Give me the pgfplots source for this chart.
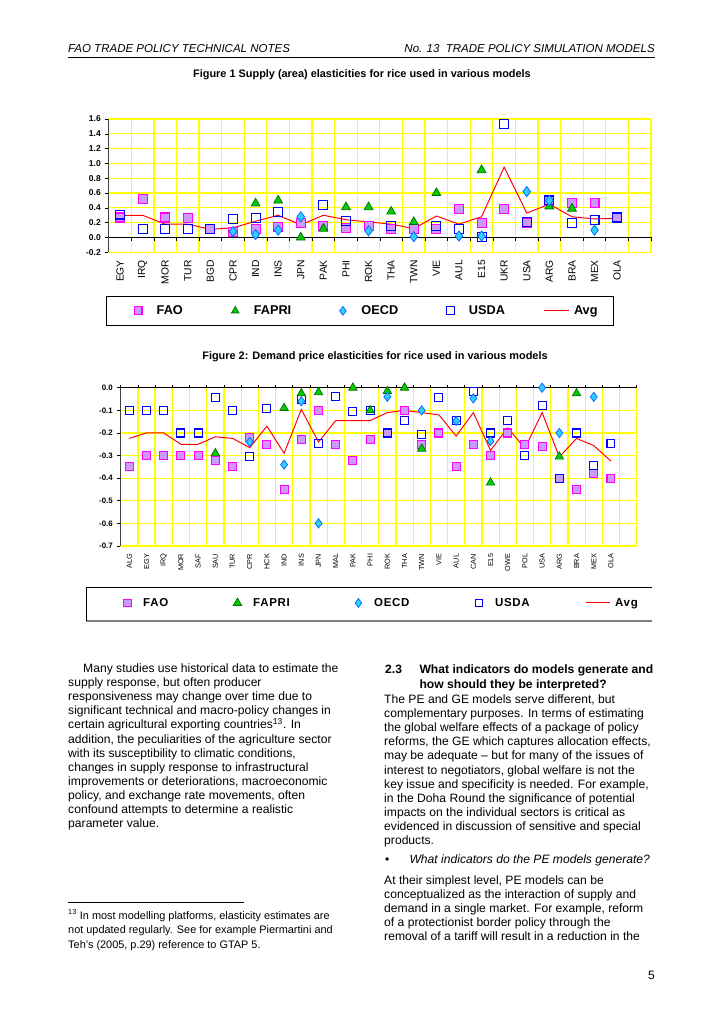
\documentclass[border=0pt]{standalone}
\usepackage{fontspec}
\setmainfont{Liberation Sans}
\usepackage{pgfplots}
\pgfplotsset{compat=1.18}

\definecolor{faofill}{RGB}{204,153,255}
\definecolor{faoedge}{RGB}{255,0,255}
\definecolor{fapfill}{RGB}{0,204,0}
\definecolor{fapedge}{RGB}{0,110,0}
\definecolor{oecdfill}{RGB}{51,204,255}
\definecolor{oecdedge}{RGB}{0,102,255}
\definecolor{usdaedge}{RGB}{0,0,255}
\definecolor{gridyel}{RGB}{255,255,0}
\definecolor{avgred}{RGB}{255,0,0}

\pgfplotsset{
  fao/.style={only marks, mark=square*, mark size=#1, mark options={fill=faofill, draw=faoedge, line width=0.9pt}},
  fapri/.style={only marks, mark=triangle*, mark size=#1, mark options={fill=fapfill, draw=fapedge, line width=0.6pt}},
  oecd/.style={only marks, mark=diamond*, mark size=#1, mark options={fill=oecdfill, draw=oecdedge, line width=0.6pt}},
  usda/.style={only marks, mark=square, mark size=#1, mark options={draw=usdaedge, line width=0.9pt}},
  avg/.style={avgred, line width=0.8pt, mark=none},
  legmark/.style={legend image code/.code={\path (-7pt,-3pt) (#1,3pt); \draw[##1] plot coordinates {(0pt,0pt)};}},
  legline/.style={legend image code/.code={\path (0pt,-3pt) (24pt,3pt); \draw[##1] (0pt,0pt) -- (#1,0pt);}},
  eltchart/.style={
    scale only axis, clip=false,
    /pgf/number format/assume math mode=true,
    axis line style={gridyel, line width=1pt},
    grid style={gridyel, line width=1pt},
    minor grid style={gridyel, line width=1pt},
    xminorgrids=true, ymajorgrids=true,
    x tick style={draw=none}, minor tick length=0pt,
    y tick style={black, line width=0.5pt}, ytick pos=left,
    tick align=outside, major tick length=3pt,
    yticklabel style={/pgf/number format/fixed, /pgf/number format/fixed zerofill, /pgf/number format/precision=1},
    xticklabel style={rotate=90, anchor=east},
    legend columns=5, legend cell align=left,
  },
}

\newcommand\tl[3]{\node[anchor=base west, inner sep=0pt, font=\fontsize{10}{12}\selectfont] at (#1,#2) {#3};}

\begin{document}
\begin{tikzpicture}[x=0.8253pt, y=-0.8253pt]
\fill[white] (0,0) rectangle (724,1024);
\useasboundingbox (0,0) rectangle (724,1024);

% running head
\node[anchor=base west, inner sep=0pt, font=\itshape\fontsize{9.5}{10}\selectfont] at (68,53) {FAO TRADE POLICY TECHNICAL NOTES};
\node[anchor=base east, inner sep=0pt, font=\itshape\fontsize{9.5}{10}\selectfont] at (655,53) {No. 13\ \ TRADE POLICY SIMULATION MODELS};
\draw[line width=0.6pt] (68,57.5) -- (655,57.5);

\node[anchor=base, inner sep=0pt, font=\bfseries\fontsize{9}{10}\selectfont] at (362,78) {Figure 1 Supply (area) elasticities for rice used in various models};
\node[anchor=base, inner sep=0pt, font=\bfseries\fontsize{9}{10}\selectfont] at (375,359) {Figure 2: Demand price elasticities for rice used in various models};

% ---------- Figure 1 ----------
\begin{axis}[eltchart,
  at={(89.71pt,-208.22pt)}, anchor=south west, width=447.6pt, height=110pt,
  xmin=-0.5, xmax=23.5, ymin=-0.2, ymax=1.6,
  xtick={0,...,22},
  xticklabels={EGY,IRQ,MOR,TUR,BGD,CPR,IND,INS,JPN,PAK,PHI,ROK,THA,TWN,VIE,AUL,E15,UKR,USA,ARG,BRA,MEX,OLA},
  minor xtick={-0.5,0.5,...,23.5},
  ytick={-0.2,0,0.2,0.4,0.6,0.8,1.0,1.2,1.4,1.6},
  xticklabel style={font=\fontsize{8.5}{9}\selectfont},
  yticklabel style={font=\bfseries\fontsize{7}{8}\selectfont},
  legend style={draw=none, fill=none, at={(0.0378,-0.439)}, anchor=west, inner sep=0pt,
    nodes={inner sep=0pt, font=\bfseries\fontsize{10.5}{11}\selectfont}},
]
\draw[black, line width=0.6pt] (axis cs:-0.5,0) -- (axis cs:23.5,0);
\pgfplotsinvokeforeach{-0.5,0.5,...,23.5}{\draw[black, line width=0.6pt] (axis cs:#1,0) -- ++(0pt,-2.5pt);}
\draw[black!75, line width=0.8pt] (rel axis cs:0,0) -- (rel axis cs:0,1);

\addlegendimage{fao=3.2pt, legmark=15.1pt}\addlegendentry{\makebox[57.6pt][l]{FAO}}
\addlegendimage{fapri=3.6pt, legmark=15.1pt}\addlegendentry{\makebox[66.4pt][l]{FAPRI}}
\addlegendimage{oecd=3.6pt, legmark=15.1pt}\addlegendentry{\makebox[66.2pt][l]{OECD}}
\addlegendimage{usda=3.2pt, legmark=15.1pt}\addlegendentry{\makebox[61.9pt][l]{USDA}}
\addlegendimage{avg, legline=20.6pt}\addlegendentry{Avg}

\addplot[fao=3.7pt, forget plot] coordinates {
 (0,0.27) (1,0.52) (2,0.27) (3,0.26) (4,0.11) (5,0.08) (6,0.12) (7,0.14) (8,0.20) (9,0.15) (10,0.13) (11,0.16)
 (12,0.11) (13,0.12) (14,0.11) (15,0.39) (16,0.19) (17,0.39) (18,0.19) (19,0.49) (20,0.46) (21,0.46) (22,0.27)};
\addplot[usda=3.7pt, forget plot] coordinates {
 (0,0.31) (1,0.12) (2,0.11) (3,0.11) (4,0.11) (5,0.25) (6,0.26) (7,0.34) (9,0.44) (10,0.22) (12,0.16) (14,0.16)
 (15,0.12) (16,0.01) (17,1.53) (18,0.21) (19,0.50) (20,0.20) (21,0.24) (22,0.27)};
\addplot[fapri=4.2pt, forget plot] coordinates {
 (6,0.46) (7,0.50) (8,0.0) (9,0.12) (10,0.41) (11,0.41) (12,0.35) (13,0.21) (14,0.60) (16,0.91) (19,0.42) (20,0.39)};
\addplot[oecd=4.2pt, forget plot] coordinates {
 (5,0.08) (6,0.04) (7,0.10) (8,0.28) (11,0.09) (13,0.01) (15,0.02) (16,0.02) (18,0.62) (19,0.50) (21,0.10)};
\addplot[avg, forget plot] coordinates {
 (0,0.30) (1,0.30) (2,0.18) (3,0.18) (4,0.11) (5,0.13) (6,0.22) (7,0.30) (8,0.17) (9,0.30) (10,0.24) (11,0.21)
 (12,0.18) (13,0.12) (14,0.29) (15,0.18) (16,0.28) (17,0.95) (18,0.33) (19,0.45) (20,0.28) (21,0.25) (22,0.26)};
\end{axis}
\draw[black, line width=0.8pt] (106.7,296) rectangle (613,325);

% ---------- Figure 2 ----------
\begin{axis}[eltchart,
  at={(99.61pt,-450.61pt)}, anchor=south west, width=425.9pt, height=130.6pt,
  xmin=-0.5, xmax=29.5, ymin=-0.7, ymax=0,
  xtick={0,...,28},
  xticklabels={ALG,EGY,IRQ,MOR,SAF,SAU,TUR,CPR,HCK,IND,INS,JPN,MAL,PAK,PHI,ROK,THA,TWN,VIE,AUL,CAN,E15,OWE,POL,USA,ARG,BRA,MEX,OLA},
  minor xtick={-0.5,0.5,...,29.5},
  ytick={-0.7,-0.6,-0.5,-0.4,-0.3,-0.2,-0.1,0},
  xticklabel style={font=\fontsize{6}{7}\selectfont},
  yticklabel style={font=\bfseries\fontsize{6.5}{7}\selectfont},
  legend style={draw=none, fill=none, at={(-0.0043,-0.360)}, anchor=west, inner sep=0pt,
    nodes={inner sep=0pt, font=\bfseries\fontsize{9.5}{10}\selectfont\addfontfeature{LetterSpace=6}}},
]
\draw[black, line width=0.6pt] (axis cs:-0.5,0) -- (axis cs:29.5,0);
\pgfplotsinvokeforeach{-0.5,0.5,...,29.5}{\draw[black, line width=0.6pt] (axis cs:#1,0) -- ++(0pt,2.5pt);}
\draw[black!75, line width=0.8pt] (rel axis cs:0,0) -- (rel axis cs:0,1);

\addlegendimage{fao=3pt, legmark=12.8pt}\addlegendentry{\makebox[70.6pt][l]{FAO}}
\addlegendimage{fapri=4pt, legmark=12.8pt}\addlegendentry{\makebox[79.6pt][l]{FAPRI}}
\addlegendimage{oecd=3.6pt, legmark=12.8pt}\addlegendentry{\makebox[79.6pt][l]{OECD}}
\addlegendimage{usda=3pt, legmark=12.8pt}\addlegendentry{\makebox[74.3pt][l]{USDA}}
\addlegendimage{avg, legline=19.8pt}\addlegendentry{Avg}

\addplot[fao=3.3pt, forget plot] coordinates {
 (0,-0.35) (1,-0.30) (2,-0.30) (3,-0.30) (4,-0.30) (5,-0.32) (6,-0.35) (7,-0.22) (8,-0.25) (9,-0.45)
 (10,-0.23) (11,-0.10) (12,-0.25) (13,-0.32) (14,-0.23) (15,-0.20) (16,-0.10) (17,-0.25) (18,-0.20) (19,-0.35)
 (20,-0.25) (21,-0.30) (22,-0.20) (23,-0.25) (24,-0.26) (25,-0.40) (26,-0.45) (27,-0.38) (28,-0.40)};
\addplot[usda=3.3pt, forget plot] coordinates {
 (0,-0.10) (1,-0.10) (2,-0.10) (3,-0.20) (4,-0.20) (5,-0.045) (6,-0.10) (7,-0.305) (8,-0.09) (10,-0.05)
 (11,-0.245) (12,-0.037) (13,-0.105) (14,-0.10) (15,-0.20) (16,-0.145) (17,-0.205) (18,-0.044) (19,-0.146)
 (20,-0.015) (21,-0.20) (22,-0.145) (23,-0.30) (24,-0.077) (25,-0.40) (26,-0.20) (27,-0.345) (28,-0.246)};
\addplot[fapri=4pt, forget plot] coordinates {
 (5,-0.29) (9,-0.09) (10,-0.025) (11,-0.02) (13,0.0) (14,-0.10) (15,-0.015) (16,0.0) (17,-0.27) (21,-0.42)
 (25,-0.305) (26,-0.025)};
\addplot[oecd=3.8pt, forget plot] coordinates {
 (7,-0.24) (9,-0.34) (10,-0.06) (11,-0.60) (15,-0.04) (17,-0.10) (19,-0.147) (20,-0.047) (21,-0.236)
 (24,0.0) (25,-0.20) (27,-0.04)};
\addplot[avg, forget plot] coordinates {
 (0,-0.224) (1,-0.20) (2,-0.20) (3,-0.25) (4,-0.25) (5,-0.217) (6,-0.224) (7,-0.265) (8,-0.17) (9,-0.29)
 (10,-0.096) (11,-0.24) (12,-0.145) (13,-0.145) (14,-0.145) (15,-0.11) (16,-0.10) (17,-0.11) (18,-0.12)
 (19,-0.214) (20,-0.11) (21,-0.277) (22,-0.177) (23,-0.268) (24,-0.11) (25,-0.306) (26,-0.224) (27,-0.256)
 (28,-0.324)};
\end{axis}
\draw[black!50, line width=1.8pt] (86,621) -- (652,621);
\draw[black, line width=0.6pt] (86,621) -- (86,587) -- (652,587);

% ---------- body text, left column ----------
\tl{83}{672.5}{Many studies use historical data to estimate the}
\tl{68}{686.6}{supply response, but often producer}
\tl{68}{700.7}{responsiveness may change over time due to}
\tl{68}{714.8}{significant technical and macro-policy changes in}
\tl{68}{728.9}{certain agricultural exporting countries\textsuperscript{13}. In}
\tl{68}{743.0}{addition, the peculiarities of the agriculture sector}
\tl{68}{757.1}{with its susceptibility to climatic conditions,}
\tl{68}{771.2}{changes in supply response to infrastructural}
\tl{68}{785.3}{improvements or deteriorations, macroeconomic}
\tl{68}{799.4}{policy, and exchange rate movements, often}
\tl{68}{813.5}{confound attempts to determine a realistic}
\tl{68}{827.6}{parameter value.}

% footnote
\draw[line width=0.5pt] (68,902) -- (244,902);
\node[anchor=base west, inner sep=0pt, font=\fontsize{9}{11}\selectfont] at (68,919) {\textsuperscript{13} In most modelling platforms, elasticity estimates are};
\node[anchor=base west, inner sep=0pt, font=\fontsize{9}{11}\selectfont] at (68,933.5) {not updated regularly. See for example Piermartini and};
\node[anchor=base west, inner sep=0pt, font=\fontsize{9}{11}\selectfont] at (68,948) {Teh’s (2005, p.29) reference to GTAP 5.};

% ---------- body text, right column ----------
\node[anchor=base west, inner sep=0pt, font=\bfseries\fontsize{10}{12}\selectfont] at (385,673.5) {2.3};
\node[anchor=base west, inner sep=0pt, font=\bfseries\fontsize{10}{12}\selectfont] at (419.3,673.5) {What indicators do models generate and};
\node[anchor=base west, inner sep=0pt, font=\bfseries\fontsize{10}{12}\selectfont] at (419.3,688) {how should they be interpreted?};
\tl{384}{703.5}{The PE and GE models serve different, but}
\tl{384}{717.6}{complementary purposes. In terms of estimating}
\tl{384}{731.7}{the global welfare effects of a package of policy}
\tl{384}{745.8}{reforms, the GE which captures allocation effects,}
\tl{384}{759.9}{may be adequate – but for many of the issues of}
\tl{384}{774.0}{interest to negotiators, global welfare is not the}
\tl{384}{788.1}{key issue and specificity is needed. For example,}
\tl{384}{802.2}{in the Doha Round the significance of potential}
\tl{384}{816.3}{impacts on the individual sectors is critical as}
\tl{384}{830.4}{evidenced in discussion of sensitive and special}
\tl{384}{844.5}{products.}
\tl{385}{863}{•}
\node[anchor=base west, inner sep=0pt, font=\itshape\fontsize{10}{12}\selectfont] at (409.3,863) {What indicators do the PE models generate?};
\tl{384}{884.5}{At their simplest level, PE models can be}
\tl{384}{898.6}{conceptualized as the interaction of supply and}
\tl{384}{912.7}{demand in a single market. For example, reform}
\tl{384}{926.8}{of a protectionist border policy through the}
\tl{384}{940.9}{removal of a tariff will result in a reduction in the}

\node[anchor=base east, inner sep=0pt, font=\fontsize{10}{12}\selectfont] at (655,979) {5};
\end{tikzpicture}
\end{document}
